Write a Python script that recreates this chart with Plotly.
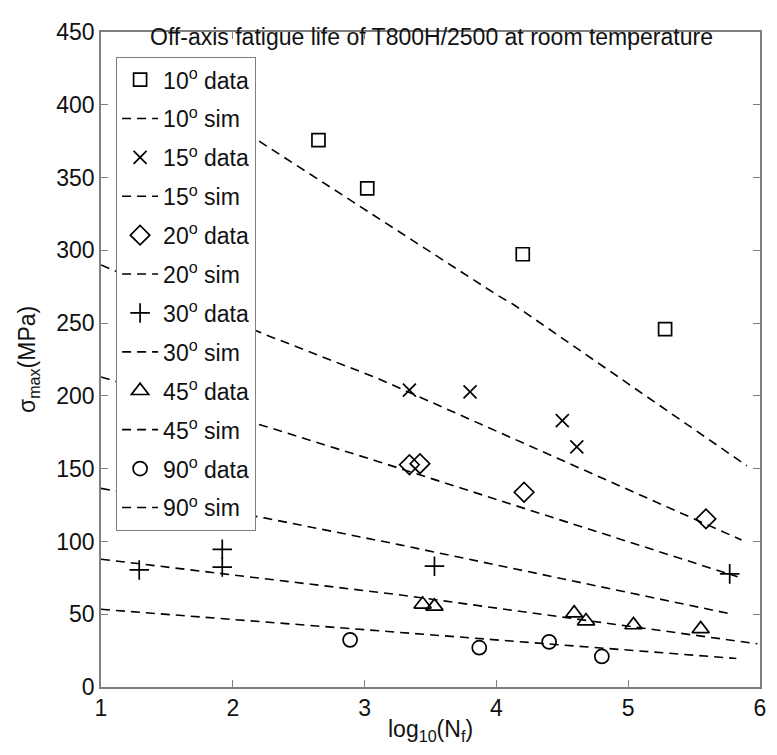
import plotly.graph_objects as go

# ---- data ----
angles = ["10", "15", "20", "30", "45", "90"]

data_x = {
    "10": [2.65, 3.02, 4.20, 5.28],
    "15": [3.34, 3.80, 4.50, 4.61],
    "20": [3.34, 3.42, 4.21, 5.59],
    "30": [1.29, 1.92, 1.92, 3.53, 5.77],
    "45": [3.44, 3.53, 4.59, 4.68, 5.04, 5.55],
    "90": [2.89, 3.87, 4.40, 4.80],
}
data_y = {
    "10": [375.7, 342.6, 297.3, 245.9],
    "15": [204.0, 202.7, 183.0, 165.0],
    "20": [152.7, 153.4, 133.8, 115.5],
    "30": [80.4, 94.6, 82.4, 83.0, 77.7],
    "45": [56.8, 55.4, 50.7, 45.3, 42.6, 39.9],
    "90": [32.4, 27.0, 31.0, 21.0],
}
sim_x = {
    "10": [2.20, 2.28, 4.00, 4.13, 5.90],
    "15": [1.0, 2.25, 3.10, 5.86],
    "20": [1.0, 2.25, 3.10, 5.83],
    "30": [1.0, 2.25, 3.25, 5.79],
    "45": [1.0, 3.25, 5.98],
    "90": [1.0, 5.82],
}
sim_y = {
    "10": [375.0, 370.3, 269.6, 262.8, 152.0],
    "15": [290.0, 242.0, 212.0, 101.0],
    "20": [213.0, 179.0, 155.0, 75.7],
    "30": [136.5, 116.0, 98.0, 50.0],
    "45": [87.8, 63.5, 29.7],
    "90": [53.4, 19.6],
}
symbols = {"10": "square-open", "15": "x-thin-open", "20": "diamond-open",
           "30": "cross-thin-open", "45": "triangle-up-open", "90": "circle-open"}
msize = {"10": 13, "15": 13, "20": 15, "30": 14, "45": 15, "90": 14}

title_text = "Off-axis fatigue life of T800H/2500 at room temperature"
x_ticks = [1, 2, 3, 4, 5, 6]
y_ticks = [0, 50, 100, 150, 200, 250, 300, 350, 400, 450]

FONT = "Liberation Sans, Arial, sans-serif"
FS = 23
TXT = "#111111"
AX = "#7f7f7f"

fig = go.Figure()
for a in angles:
    fig.add_trace(go.Scatter(
        x=data_x[a], y=data_y[a], mode="markers",
        name=f"{a}<sup>o</sup> data", legendgroup=f"d{a}",
        marker=dict(symbol=symbols[a], size=msize[a], color="black",
                    line=dict(color="black", width=1.7)),
    ))
    fig.add_trace(go.Scatter(
        x=sim_x[a], y=sim_y[a], mode="lines",
        name=f"{a}<sup>o</sup> sim", legendgroup=f"s{a}",
        line=dict(color="black", width=1.6, dash="9px,6px"),
    ))

fig.add_annotation(x=0.502, y=0.993, xref="paper", yref="paper",
                   xanchor="center", yanchor="middle",
                   text=title_text, showarrow=False,
                   font=dict(family=FONT, size=FS, color=TXT))
fig.add_annotation(x=0.5, y=-0.067, xref="paper", yref="paper",
                   xanchor="center", yanchor="middle",
                   text="log<sub>10</sub>(N<sub>f</sub>)", showarrow=False,
                   font=dict(family=FONT, size=FS, color=TXT))
fig.add_annotation(x=-0.11, y=0.5, xref="paper", yref="paper",
                   xanchor="center", yanchor="middle",
                   text="σ<sub>max</sub>(MPa)", showarrow=False, textangle=-90,
                   font=dict(family=FONT, size=FS, color=TXT))

axis_common = dict(showgrid=False, zeroline=False, showline=True, linecolor=AX,
                   linewidth=1.5, ticks="inside", ticklen=7, tickcolor=AX,
                   tickwidth=1, mirror="ticks",
                   tickfont=dict(family=FONT, size=FS, color=TXT))
fig.update_xaxes(range=[1, 6], tickvals=x_ticks, **axis_common)
fig.update_yaxes(range=[0, 450], tickvals=y_ticks, **axis_common)

# page body has an 8px margin; figure sized/margined so the plot area lands
# where the reference has it
fig.update_layout(
    width=769, height=739,
    margin=dict(l=93, r=11, t=12, b=60),
    plot_bgcolor="white", paper_bgcolor="white",
    showlegend=True,
    legend=dict(x=0.0226, y=0.962, xanchor="left", yanchor="top",
                bgcolor="white", bordercolor=AX, borderwidth=1.2,
                font=dict(family=FONT, size=FS, color=TXT),
                tracegroupgap=6, itemwidth=36),
)

fig.write_html("out.html")
